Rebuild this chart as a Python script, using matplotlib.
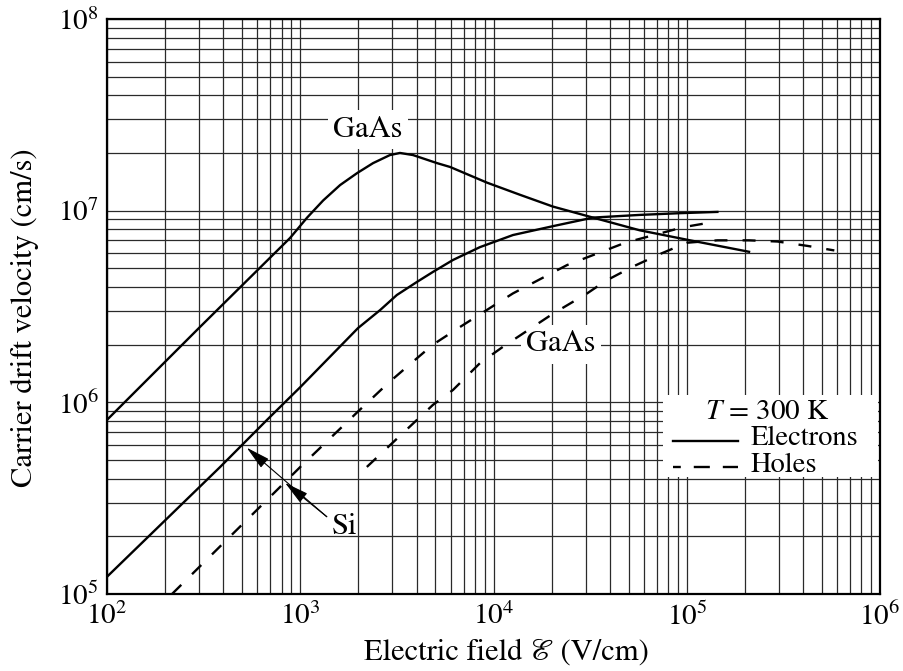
import matplotlib
matplotlib.use("Agg")
import matplotlib.pyplot as plt
from matplotlib.ticker import LogLocator, NullFormatter
from matplotlib.patches import Rectangle

# Drift velocity vs. electric field at T = 300 K
gaas_e_field = [100, 300, 885, 1085, 1313, 1607, 1968, 2380, 2910, 3280, 3830, 5100,
                5960, 9250, 1.37e4, 2.03e4, 3.27e4, 5.7e4, 1.04e5, 2.1e5]
gaas_e_vel = [8.1e5, 2.45e6, 7.2e6, 9.2e6, 1.13e7, 1.36e7, 1.57e7, 1.77e7, 1.95e7, 2.0e7,
              1.95e7, 1.77e7, 1.69e7, 1.4e7, 1.21e7, 1.05e7, 9.2e6, 7.9e6, 7.0e6, 6.1e6]

si_e_field = [100, 385, 673, 1000, 1990, 2590, 3160, 4020, 4860, 6170, 8500, 1.26e4,
              2.03e4, 3.27e4, 5.7e4, 9.2e4, 1.44e5]
si_e_vel = [1.23e5, 4.6e5, 8.1e5, 1.2e6, 2.44e6, 3.03e6, 3.63e6, 4.25e6, 4.79e6, 5.53e6,
            6.45e6, 7.46e6, 8.3e6, 9.2e6, 9.5e6, 9.7e6, 9.85e6]

si_h_field = [217, 1000, 2000, 2850, 3830, 4860, 6700, 1.26e4, 2.4e4, 3.4e4, 4.8e4,
              6.9e4, 9.6e4, 1.35e5]
si_h_vel = [1.0e5, 4.6e5, 9.0e5, 1.26e6, 1.63e6, 2.0e6, 2.47e6, 3.7e6, 5.2e6, 5.95e6,
            6.8e6, 7.5e6, 8.2e6, 8.7e6]

gaas_h_field = [2210, 4860, 6170, 8500, 1.12e4, 2.03e4, 3.05e4, 3.8e4, 5.25e4, 7.3e4,
                1.0e5, 1.44e5, 2.1e5, 2.95e5, 4.2e5, 5.8e5]
gaas_h_vel = [4.6e5, 9.7e5, 1.16e6, 1.6e6, 1.95e6, 2.9e6, 3.7e6, 4.3e6, 5.1e6, 5.95e6,
              6.8e6, 7.0e6, 7.0e6, 6.9e6, 6.55e6, 6.2e6]

plt.rcParams['font.family'] = ['STIXGeneral', 'DejaVu Serif']
plt.rcParams['mathtext.fontset'] = 'stix'

fig = plt.figure(figsize=(9.04, 6.71), dpi=100)
ax = fig.add_axes([0.1184, 0.1148, 0.8551, 0.8569])

lw = 1.7
dash = (5.5, 6.4)
ax.plot(gaas_e_field, gaas_e_vel, color='black', lw=lw, zorder=4)
ax.plot(si_e_field, si_e_vel, color='black', lw=lw, zorder=4)
ax.plot(si_h_field, si_h_vel, color='black', lw=lw, dashes=dash, zorder=4)
ax.plot(gaas_h_field, gaas_h_vel, color='black', lw=lw, dashes=dash, zorder=4)

ax.set_xscale('log')
ax.set_yscale('log')
ax.set_xlim(1e2, 1e6)
ax.set_ylim(1e5, 1e8)
for axis in (ax.xaxis, ax.yaxis):
    axis.set_major_locator(LogLocator(base=10))
    axis.set_minor_locator(LogLocator(base=10, subs=range(2, 10)))
    axis.set_minor_formatter(NullFormatter())

ax.set_axisbelow(True)
ax.grid(which='both', color='#2a2a2a', lw=0.9)
ax.tick_params(axis='both', which='both', length=0, labelsize=21, pad=6)
for spine in ax.spines.values():
    spine.set_linewidth(1.6)

ax.set_ylabel('Carrier drift velocity (cm/s)', fontsize=22)
ax.yaxis.label.set_va('center')
ax.yaxis.set_label_coords(-0.106, 0.48)
ax.set_xlabel('Electric field \u2130 (V/cm)', fontsize=22)
ax.xaxis.label.set_va('center')
ax.xaxis.set_label_coords(0.517, -0.103)

# curve labels
box = dict(facecolor='white', edgecolor='none', pad=4)
ax.text(2245, 2.64e7, 'GaAs', fontsize=22, ha='center', va='center', bbox=box, zorder=3)
ax.text(2.23e4, 2.0e6, 'GaAs', fontsize=22, ha='center', va='center', bbox=box, zorder=3)
ax.text(1460, 2.24e5, 'Si', fontsize=22, ha='left', va='center', zorder=3)
arrow = dict(arrowstyle='-|>,head_length=0.75,head_width=0.18', mutation_scale=20,
             lw=0.8, color='black', shrinkA=0, shrinkB=0)
ax.annotate('', xy=(528, 5.8e5), xytext=(1371, 2.53e5), arrowprops=arrow, zorder=5)
ax.annotate('', xy=(834, 3.8e5), xytext=(1371, 2.53e5), arrowprops=arrow, zorder=5)

# legend box
ax.add_patch(Rectangle((0.719, 0.2035), 0.278, 0.1425, transform=ax.transAxes,
                       facecolor='white', edgecolor='none', zorder=2))
ax.text(0.854, 0.316, '$T$ = 300 K', transform=ax.transAxes, fontsize=21,
        ha='center', va='center', zorder=3)
ax.plot([0.732, 0.816], [0.2655, 0.2655], transform=ax.transAxes, color='black',
        lw=lw, zorder=3)
ax.plot([0.732, 0.816], [0.2215, 0.2215], transform=ax.transAxes, color='black',
        lw=lw, linestyle=(3.5, (6.8, 5.5)), zorder=3)
ax.text(0.832, 0.270, 'Electrons', transform=ax.transAxes, fontsize=20.5,
        ha='left', va='center', zorder=3)
ax.text(0.832, 0.224, 'Holes', transform=ax.transAxes, fontsize=20.5,
        ha='left', va='center', zorder=3)

fig.savefig('out.png', dpi=100)
